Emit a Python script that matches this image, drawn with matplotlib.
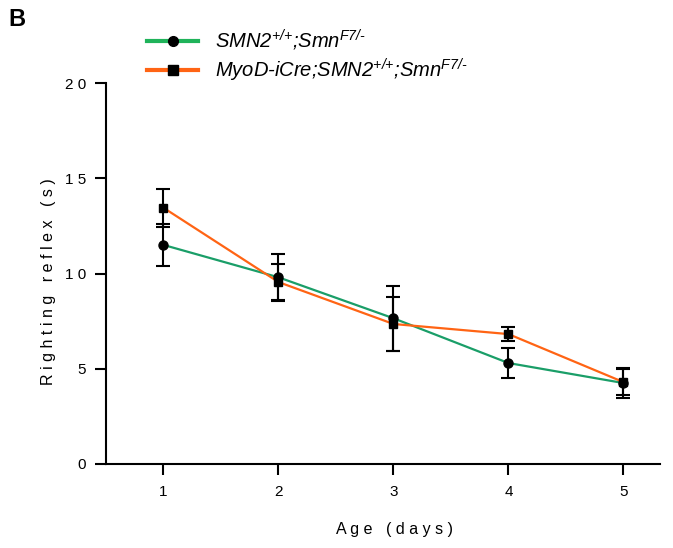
import matplotlib
matplotlib.use("Agg")
import matplotlib.pyplot as plt

plt.rcParams['font.family'] = ['Liberation Sans', 'DejaVu Sans']
plt.rcParams['mathtext.fontset'] = 'custom'
plt.rcParams['mathtext.rm'] = 'Liberation Sans:italic'
plt.rcParams['mathtext.it'] = 'Liberation Sans:italic'

days = [1, 2, 3, 4, 5]
ctrl_mean = [11.5, 9.8, 7.65, 5.3, 4.25]
ctrl_err = [1.1, 1.25, 1.7, 0.8, 0.8]
myod_mean = [13.45, 9.55, 7.35, 6.82, 4.3]
myod_err = [1.0, 0.95, 1.4, 0.38, 0.7]
y_ticks = [0, 5, 10, 15, 20]

ctrl_label = r'$\text{SMN2}^{\text{+/+}}\text{;Smn}^{\text{F7/-}}$'
myod_label = r'$\text{MyoD-iCre;SMN2}^{\text{+/+}}\text{;Smn}^{\text{F7/-}}$'

GREEN = "#1a9e68"
ORANGE = "#ff6414"


def spaced(s):
    # wide letter tracking like the original figure
    return " ".join(s)


fig = plt.figure(figsize=(6.73, 5.48), dpi=100)
ax = fig.add_axes([0.1575, 0.1533, 0.8235, 0.6952])

ax.plot(days, ctrl_mean, color=GREEN, lw=1.6, zorder=2)
ax.plot(days, myod_mean, color=ORANGE, lw=1.6, zorder=2)
ax.errorbar(days, ctrl_mean, yerr=ctrl_err, fmt='none', ecolor='black',
            elinewidth=1.5, capsize=5, capthick=1.5, zorder=3)
ax.errorbar(days, myod_mean, yerr=myod_err, fmt='none', ecolor='black',
            elinewidth=1.5, capsize=5, capthick=1.5, zorder=3)
ax.plot(days, ctrl_mean, 'o', color='black', ms=6.5, zorder=4)
ax.plot(days, myod_mean, 's', color='black', ms=6, zorder=4)

ax.set_xlim(0.5, 5.32)
ax.set_ylim(0, 20)
ax.set_xticks(days)
ax.set_xticklabels([str(d) for d in days])
ax.set_yticks(y_ticks)
ax.set_yticklabels([spaced(str(v)) for v in y_ticks])
for s in ['top', 'right']:
    ax.spines[s].set_visible(False)
for s in ['left', 'bottom']:
    ax.spines[s].set_linewidth(1.5)
ax.tick_params(width=1.5, length=8, labelsize=11)
ax.tick_params(axis='x', pad=7)
ax.tick_params(axis='y', pad=6.5)

ax.set_xlabel(spaced("Age (days)"), fontsize=11.5)
ax.set_ylabel(spaced("Righting reflex (s)"), fontsize=11.5)
ax.xaxis.set_label_coords(0.52, -0.152)
ax.yaxis.set_label_coords(-0.09, 0.478)

h1, = ax.plot([], [], color="#1fb35a", lw=3, marker='o', ms=7, mfc='black', mec='black')
h2, = ax.plot([], [], color=ORANGE, lw=3, marker='s', ms=6.5, mfc='black', mec='black')
fig.legend([h1, h2], [ctrl_label, myod_label], loc='upper left',
           bbox_to_anchor=(0.192, 0.982), frameon=False, fontsize=14.5,
           handlelength=2.5, handletextpad=0.85, labelspacing=0.18)

fig.text(0.012, 0.985, "B", fontsize=17, fontweight='bold', va='top', ha='left')

fig.savefig("out.png", dpi=100)
